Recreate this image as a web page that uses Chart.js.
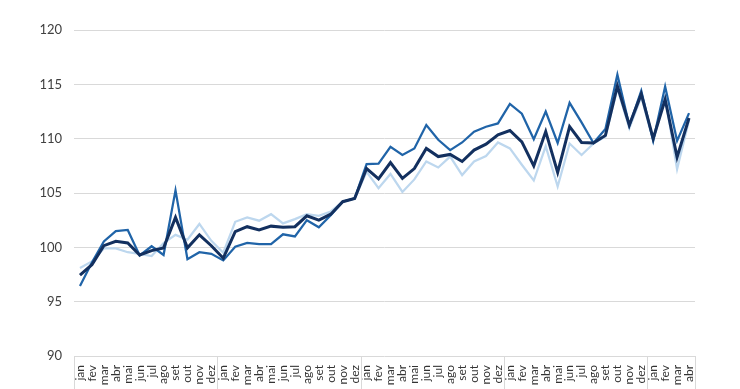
<!DOCTYPE html>
<html lang="pt">
<head>
<meta charset="utf-8">
<title>Índices mensais</title>
<script src="https://cdn.jsdelivr.net/npm/chart.js@4.4.0/dist/chart.umd.min.js"></script>
<style>
    html, body { margin: 0; padding: 0; background: #ffffff; }
    #wrap { width: 740px; height: 389px; }
</style>
</head>
<body>
<div id="wrap"><canvas id="grafico" width="740" height="389"></canvas></div>
<script>
// Meses (4 anos completos + jan a abr)
var meses = ['jan', 'fev', 'mar', 'abr', 'mai', 'jun', 'jul', 'ago', 'set', 'out', 'nov', 'dez'];
var rotulos = [].concat(meses, meses, meses, meses, meses.slice(0, 4));

// Série azul-escura (mais grossa)
var serieEscura = [
    97.45, 98.4, 100.15, 100.55, 100.4, 99.3, 99.7, 99.95, 102.75, 99.95, 101.15, 100.15,
    99.0, 101.45, 101.9, 101.6, 101.95, 101.85, 101.9, 102.9, 102.5, 103.05, 104.2, 104.5,
    107.25, 106.3, 107.8, 106.35, 107.25, 109.1, 108.35, 108.55, 107.9, 108.95, 109.5, 110.35,
    110.75, 109.7, 107.5, 110.65, 106.9, 111.1, 109.65, 109.6, 110.3, 114.85, 111.25, 114.1,
    110.0, 113.6, 108.3, 111.9
];

// Série azul-média
var serieMedia = [
    96.45, 98.6, 100.55, 101.5, 101.6, 99.25, 100.1, 99.3, 105.25, 98.9, 99.55, 99.4,
    98.8, 100.05, 100.4, 100.3, 100.3, 101.2, 101.0, 102.5, 101.85, 102.95, 104.2, 104.5,
    107.65, 107.7, 109.25, 108.5, 109.1, 111.25, 109.9, 108.95, 109.65, 110.65, 111.1, 111.4,
    113.2, 112.3, 109.95, 112.5, 109.6, 113.3, 111.5, 109.6, 110.9, 115.9, 111.2, 114.4,
    109.8, 114.8, 109.8, 112.35
];

// Série azul-clara
var serieClara = [
    98.1, 98.7, 99.9, 99.9, 99.55, 99.4, 99.2, 100.4, 101.15, 100.7, 102.15, 100.6,
    99.5, 102.35, 102.75, 102.45, 103.05, 102.2, 102.6, 103.05, 102.9, 103.3, 104.2, 104.5,
    106.95, 105.45, 106.75, 105.1, 106.25, 107.9, 107.35, 108.35, 106.65, 107.9, 108.4, 109.65,
    109.1, 107.6, 106.15, 109.3, 105.6, 109.55, 108.5, 109.55, 110.2, 114.6, 110.95, 113.85,
    109.8, 113.85, 107.2, 111.7
];

// Eixo Y
var yMin = 90;
var yMax = 120;
var yPasso = 5;

// Plugin: linhas verticais separando os anos abaixo do eixo
var separadoresAno = {
    id: 'separadoresAno',
    afterDraw: function(chart) {
        var ctx = chart.ctx;
        var area = chart.chartArea;
        var x = chart.scales.x;
        var posicoes = [area.left, area.right];
        for (var i = 12; i < rotulos.length; i += 12) {
            posicoes.push((x.getPixelForTick(i - 1) + x.getPixelForTick(i)) / 2);
        }
        ctx.save();
        ctx.strokeStyle = '#d9d9d9';
        ctx.lineWidth = 1;
        posicoes.forEach(function(px) {
            var p = Math.round(px) + 0.5;
            ctx.beginPath();
            ctx.moveTo(p, area.bottom);
            ctx.lineTo(p, chart.height);
            ctx.stroke();
        });
        ctx.restore();
    }
};

document.addEventListener('DOMContentLoaded', function() {
    var ctx = document.getElementById('grafico').getContext('2d');

    new Chart(ctx, {
        type: 'line',
        data: {
            labels: rotulos,
            datasets: [{
                data: serieEscura,
                borderColor: '#13305f',
                borderWidth: 3,
                pointRadius: 0,
                tension: 0
            }, {
                data: serieMedia,
                borderColor: '#2064a8',
                borderWidth: 2.25,
                pointRadius: 0,
                tension: 0
            }, {
                data: serieClara,
                borderColor: '#bdd7ee',
                borderWidth: 2.25,
                pointRadius: 0,
                tension: 0
            }]
        },
        options: {
            responsive: false,
            animation: false,
            layout: {
                padding: { top: 30, right: 45, bottom: 0, left: 0 }
            },
            plugins: {
                legend: { display: false },
                tooltip: { enabled: false }
            },
            scales: {
                x: {
                    offset: true,
                    grid: { display: false },
                    border: { display: false },
                    ticks: {
                        autoSkip: false,
                        maxRotation: 90,
                        minRotation: 90,
                        padding: 1,
                        color: '#333333',
                        font: { family: 'Lato', size: 12 }
                    },
                    afterFit: function(scale) {
                        scale.height = 33;
                    }
                },
                y: {
                    min: yMin,
                    max: yMax,
                    grid: {
                        color: '#d9d9d9',
                        lineWidth: 1,
                        drawTicks: false
                    },
                    border: { display: false },
                    ticks: {
                        stepSize: yPasso,
                        padding: 12,
                        color: '#404040',
                        font: { family: 'Lato', size: 13 }
                    },
                    afterFit: function(scale) {
                        scale.width = 74;
                    }
                }
            }
        },
        plugins: [separadoresAno]
    });
});
</script>
</body>
</html>
